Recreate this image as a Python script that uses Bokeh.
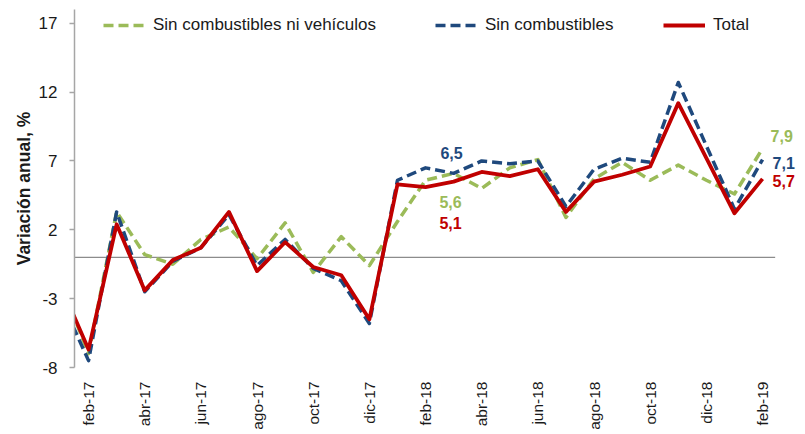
import math
from bokeh.plotting import figure
from bokeh.models import Range1d, FixedTicker, Legend, LegendItem, Label
from bokeh.embed import file_html
from bokeh.resources import INLINE

months = ["ene-17", "feb-17", "mar-17", "abr-17", "may-17", "jun-17", "jul-17",
          "ago-17", "sep-17", "oct-17", "nov-17", "dic-17", "ene-18", "feb-18",
          "mar-18", "abr-18", "may-18", "jun-18", "jul-18", "ago-18", "sep-18",
          "oct-18", "nov-18", "dic-18", "ene-19", "feb-19"]
sin_comb_ni_veh = [-1.8, -7.0, 3.3, 0.2, -0.5, 1.3, 2.2, -0.1, 2.5, -1.1, 1.5, -0.6,
                   2.6, 5.6, 6.1, 5.0, 6.5, 7.1, 2.9, 5.7, 6.9, 5.6, 6.7, 5.6, 4.6, 7.9]
sin_comb = [-3.0, -7.5, 3.3, -2.5, -0.3, 0.7, 3.1, -0.6, 1.3, -0.8, -1.7, -4.8,
            5.6, 6.5, 6.1, 7.0, 6.8, 7.0, 3.7, 6.4, 7.2, 6.9, 12.7, 8.1, 3.5, 7.1]
total = [-2.0, -6.7, 2.4, -2.4, -0.2, 0.7, 3.3, -1.0, 1.1, -0.7, -1.3, -4.5,
         5.3, 5.1, 5.5, 6.2, 5.9, 6.4, 3.3, 5.5, 6.0, 6.6, 11.2, 7.2, 3.2, 5.7]
y_ticks = [-8, -3, 2, 7, 12, 17]
series_names = ["Sin combustibles ni vehículos", "Sin combustibles", "Total"]
colors = ["#9BBB59", "#1F497D", "#C00000"]

idx = list(range(len(months)))
FONT = "Liberation Sans"

p = figure(width=805, height=434, output_backend="svg", toolbar_location=None,
           x_range=Range1d(0.5, 26.53), y_range=Range1d(-8, 18),
           min_border_left=74, min_border_right=0, min_border_top=9,
           min_border_bottom=67)
p.outline_line_color = None
p.xgrid.visible = False
p.ygrid.visible = False

# zero line
p.segment(x0=[idx[1] - 0.5], y0=[0], x1=[idx[-1] + 0.45], y1=[0],
          line_color="#8C8C8C", line_width=1.2)

r_green = p.line(idx, sin_comb_ni_veh, line_color=colors[0], line_width=3.5,
                 line_dash="10 5", line_join="round")
r_blue = p.line(idx, sin_comb, line_color=colors[1], line_width=3.5,
                line_dash="10 5", line_join="round")
r_red = p.line(idx, total, line_color=colors[2], line_width=3.8, line_join="round")

# axes
yax = p.yaxis[0]
yax.ticker = FixedTicker(ticks=y_ticks)
yax.major_label_overrides = {t: str(t) for t in y_ticks}
yax.axis_line_color = "#A6A6A6"
yax.axis_line_width = 1.5
yax.major_tick_line_color = "#A6A6A6"
yax.major_tick_line_width = 1.5
yax.major_tick_out = 5
yax.major_tick_in = 0
yax.minor_tick_line_color = None
yax.major_label_text_font = FONT
yax.major_label_text_font_size = "17px"
yax.major_label_text_color = "#1a1a1a"
yax.major_label_standoff = 12
yax.axis_label = "Variación anual, %"
yax.axis_label_text_font = FONT
yax.axis_label_text_font_size = "17.5px"
yax.axis_label_text_font_style = "bold"
yax.axis_label_text_color = "#1a1a1a"
yax.axis_label_standoff = 2

xax = p.xaxis[0]
tick_idx = idx[1::2]
xax.ticker = FixedTicker(ticks=tick_idx)
xax.major_label_overrides = {i: months[i] for i in tick_idx}
xax.major_label_orientation = math.pi / 2
xax.axis_line_color = None
xax.major_tick_line_color = None
xax.minor_tick_line_color = None
xax.major_label_text_font = FONT
xax.major_label_text_font_size = "15.5px"
xax.major_label_text_color = "#1a1a1a"
xax.major_label_standoff = 8

# legends (one per item to place them like the original)
leg_x = [29, 361, 589]
for r, name, lx in zip([r_green, r_blue, r_red], series_names, leg_x):
    leg = Legend(items=[LegendItem(label=name, renderers=[r])], location=(lx, 332),
                 orientation="horizontal", border_line_color=None,
                 background_fill_alpha=0, padding=0, margin=0, glyph_width=42,
                 glyph_height=20, label_height=20, label_standoff=8,
                 label_text_font=FONT, label_text_font_size="17px",
                 label_text_color="#1a1a1a")
    p.add_layout(leg, "center")

# data labels
def fmt(v):
    return f"{v:.1f}".replace(".", ",")

i18 = months.index("feb-18")
last = len(months) - 1
labels = [
    (i18, sin_comb[i18], colors[1], 26, 15, "center"),
    (i18, sin_comb_ni_veh[i18], colors[0], 25, -22, "center"),
    (i18, total[i18], colors[2], 25, -36, "center"),
    (last, sin_comb_ni_veh[last], colors[0], 8, 13, "left"),
    (last, sin_comb[last], colors[1], 10, -3, "left"),
    (last, total[last], colors[2], 10, -2, "left"),
]
for xi, v, c, dx, dy, al in labels:
    p.add_layout(Label(x=xi, y=v, text=fmt(v), x_offset=dx, y_offset=dy,
                       text_align=al, text_baseline="middle", text_color=c,
                       text_font=FONT, text_font_size="16px", text_font_style="bold"))

open("out.html", "w").write(file_html(p, INLINE))
